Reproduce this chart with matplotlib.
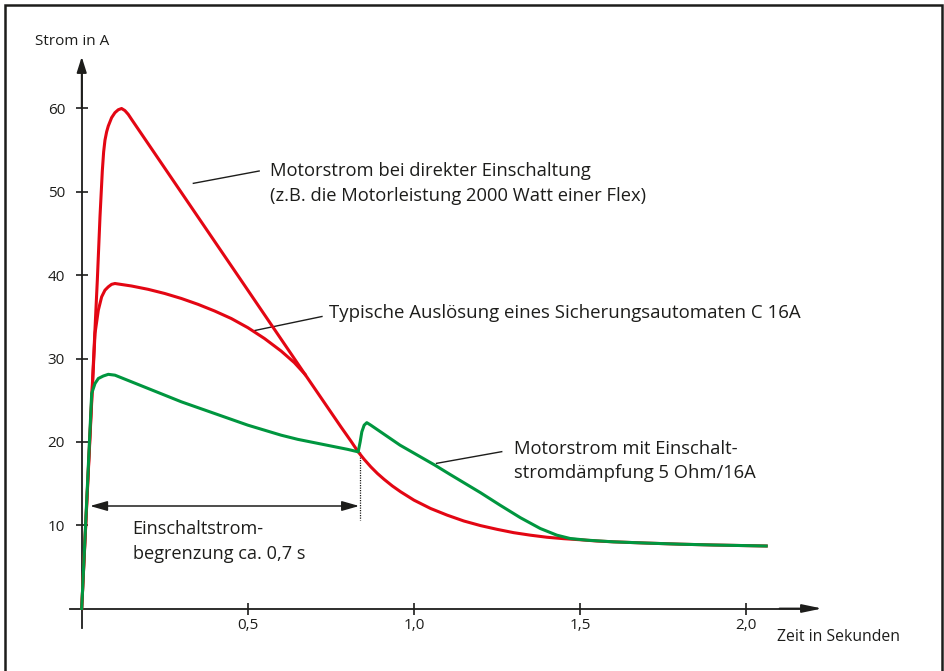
import matplotlib.pyplot as plt
from matplotlib.patches import Rectangle

plt.rcParams['font.family'] = ['Open Sans', 'DejaVu Sans']

# Motorstrom bei direkter Einschaltung (Zeit in s, Strom in A)
direct_t = [0, 0.047, 0.055, 0.062, 0.066, 0.070, 0.075, 0.080, 0.090, 0.100,
            0.110, 0.120, 0.130, 0.140, 0.150, 0.336, 0.476, 0.672, 0.780, 0.810,
            0.832, 0.850, 0.870, 0.890, 0.910, 0.935, 0.960, 1.000, 1.050, 1.100,
            1.150, 1.200, 1.250, 1.300, 1.350, 1.400, 1.450, 1.500, 1.550, 1.600,
            1.700, 1.800, 1.900, 2.060]
direct_i = [0, 39.4, 47.0, 52.5, 54.8, 56.2, 57.2, 57.9, 58.9, 59.5,
            59.85, 60.0, 59.75, 59.3, 58.7, 47.8, 39.6, 28.1, 21.8, 20.1,
            18.8, 17.9, 17.0, 16.2, 15.5, 14.7, 14.0, 13.0, 12.0, 11.2,
            10.5, 9.95, 9.5, 9.1, 8.8, 8.55, 8.38, 8.25, 8.1, 8.0,
            7.85, 7.72, 7.62, 7.5]

# Typische Auslösung eines Sicherungsautomaten C 16A
breaker_t = [0, 0.040, 0.050, 0.060, 0.070, 0.080, 0.090, 0.100, 0.150, 0.200,
             0.250, 0.300, 0.350, 0.400, 0.450, 0.500, 0.550, 0.600, 0.640, 0.672]
breaker_i = [0, 33.0, 35.8, 37.4, 38.2, 38.6, 38.9, 39.0, 38.7, 38.3,
             37.8, 37.2, 36.5, 35.7, 34.8, 33.7, 32.4, 30.9, 29.5, 28.1]

# Motorstrom mit Einschaltstromdämpfung 5 Ohm/16A
damped_t = [0, 0.030, 0.040, 0.050, 0.065, 0.080, 0.100, 0.150, 0.200, 0.250,
            0.300, 0.350, 0.400, 0.450, 0.500, 0.550, 0.600, 0.650, 0.700, 0.750,
            0.800, 0.832, 0.838, 0.843, 0.850, 0.858, 0.870, 0.958, 1.063, 1.108,
            1.200, 1.259, 1.320, 1.380, 1.430, 1.470, 1.520, 1.600, 1.700, 1.800,
            1.900, 2.060]
damped_i = [0, 25.8, 27.0, 27.6, 27.9, 28.1, 28.0, 27.2, 26.4, 25.6,
            24.8, 24.1, 23.4, 22.7, 22.0, 21.4, 20.8, 20.3, 19.9, 19.5,
            19.1, 18.8, 20.0, 21.2, 22.0, 22.3, 22.0, 19.6, 17.2, 16.1,
            13.9, 12.4, 10.9, 9.6, 8.8, 8.4, 8.2, 8.0, 7.85, 7.72,
            7.62, 7.5]

y_ticks = [10, 20, 30, 40, 50, 60]
x_ticks = [0.5, 1.0, 1.5, 2.0]
x_tick_labels = ["0,5", "1,0", "1,5", "2,0"]

red = '#e30613'
green = '#00963f'
ink = '#1d1d1b'

fig = plt.figure(figsize=(9.44, 6.71), dpi=100)
ax = fig.add_axes([0, 0, 1, 1])
ax.set_xlim(-0.2459, 2.595)
ax.set_ylim(-7.5, 73.02)

# axes crossing at the origin
for side in ['top', 'right']:
    ax.spines[side].set_visible(False)
ax.spines['left'].set_position(('data', 0))
ax.spines['bottom'].set_position(('data', 0))
ax.spines['left'].set_bounds(-2.3, 65)
ax.spines['bottom'].set_bounds(-0.035, 2.2)
for side in ['left', 'bottom']:
    ax.spines[side].set_linewidth(1.3)
    ax.spines[side].set_color(ink)
ax.patch.set_visible(False)

ax.set_yticks(y_ticks)
ax.set_xticks(x_ticks)
ax.set_xticklabels(x_tick_labels)
ax.tick_params(direction='inout', length=8, width=1.2, color=ink,
               labelsize=11, labelcolor=ink)
ax.tick_params(axis='y', pad=8)
ax.tick_params(axis='x', pad=3)

# arrow heads on the axes
ax.annotate('', xy=(0, 66.2), xytext=(0, 60),
            arrowprops=dict(arrowstyle='-|>,head_length=0.95,head_width=0.3',
                            color=ink, lw=1.3, shrinkA=0, shrinkB=0))
ax.annotate('', xy=(2.228, 0), xytext=(2.1, 0),
            arrowprops=dict(arrowstyle='-|>,head_length=1.2,head_width=0.25',
                            color=ink, lw=1.3, shrinkA=0, shrinkB=0))

ax.text(-0.029, 68.0, "Strom in A", ha='center', va='center', fontsize=11, color=ink)
ax.text(2.279, -3.42, "Zeit in Sekunden", ha='center', va='center', fontsize=11.3, color=ink)

# curves
ax.plot(direct_t, direct_i, color=red, lw=2.2, solid_joinstyle='round', zorder=3)
ax.plot(breaker_t, breaker_i, color=red, lw=2.2, solid_joinstyle='round', zorder=3)
ax.plot(damped_t, damped_i, color=green, lw=2.2, solid_joinstyle='round', zorder=4)

# 0,7 s range marker
ax.plot([0.836, 0.836], [18.8, 10.6], color=ink, lw=0.9, ls=(0, (1, 1)))
ax.annotate('', xy=(0.025, 12.3), xytext=(0.835, 12.3),
            arrowprops=dict(arrowstyle='<|-|>,head_length=1.05,head_width=0.3',
                            color=ink, lw=1.1, shrinkA=0, shrinkB=0))
ax.text(0.153, 8.0, "Einschaltstrom-\nbegrenzung ca. 0,7 s", ha='left', va='center',
        fontsize=13.1, color=ink, linespacing=1.5)

# leader lines and labels
ax.plot([0.336, 0.534], [51.02, 52.5], color=ink, lw=1.0)
ax.text(0.566, 51.0, "Motorstrom bei direkter Einschaltung\n(z.B. die Motorleistung 2000 Watt einer Flex)",
        ha='left', va='center', fontsize=13.2, color=ink, linespacing=1.5)

ax.plot([0.521, 0.723], [33.36, 35.04], color=ink, lw=1.0)
ax.text(0.745, 35.5, "Typische Auslösung eines Sicherungsautomaten C 16A",
        ha='left', va='center', fontsize=13.4, color=ink)

ax.plot([1.068, 1.264], [17.42, 18.82], color=ink, lw=1.0)
ax.text(1.300, 17.7, "Motorstrom mit Einschalt-\nstromdämpfung 5 Ohm/16A",
        ha='left', va='center', fontsize=13.2, color=ink, linespacing=1.5)

# frame around the picture
fig.patches.append(Rectangle((5 / 944, -0.05), 937 / 944, 1 + 0.05 - 5 / 671,
                             transform=fig.transFigure, fill=False,
                             edgecolor=ink, lw=1.8))

fig.savefig("out.png", dpi=100)
